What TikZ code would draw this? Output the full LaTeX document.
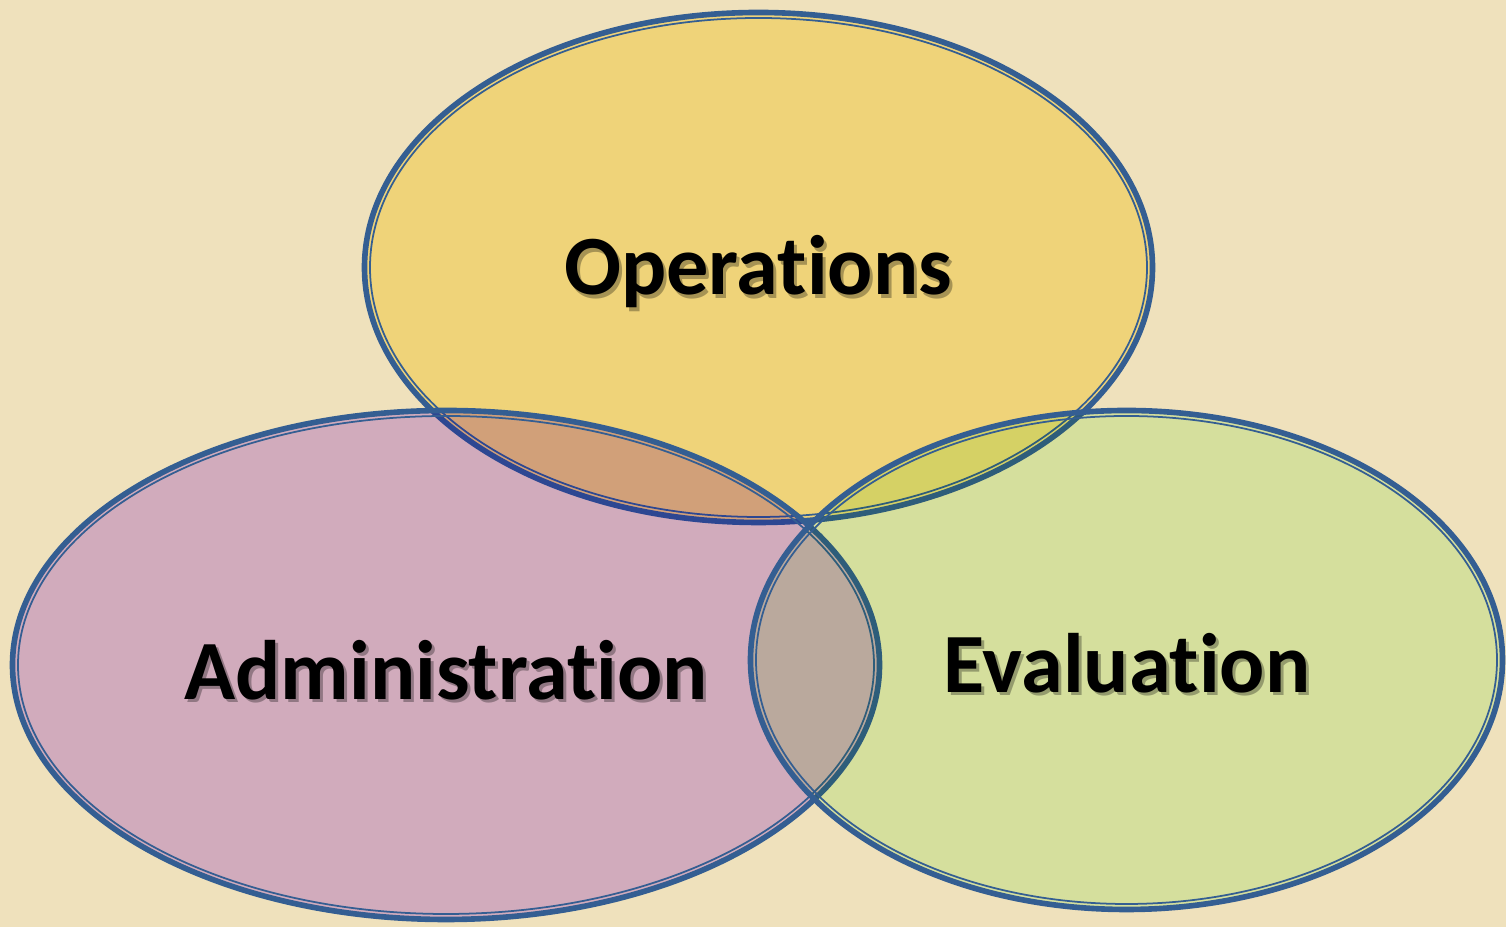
\documentclass[tikz,border=0pt]{standalone}
\usepackage{fontspec}
\setmainfont[Ligatures=NoCommon]{Carlito}
\usepackage{xcolor}
\definecolor{parch}{RGB}{239,225,188}
\definecolor{rimblue}{RGB}{52,94,146}
\definecolor{opsfill}{RGB}{255,240,165}
\definecolor{admfill}{RGB}{223,194,255}
\definecolor{evafill}{RGB}{228,253,214}

\begin{document}
\begin{tikzpicture}[
    rim/.style={draw=rimblue, line width=1.6pt},
    rimin/.style={draw=rimblue, line width=0.5pt},
    lbl/.style={font=\fontsize{24}{28}\selectfont\bfseries, text=black, inner sep=0pt},
    lblshadow/.style={lbl, text=black, text opacity=0.3}]
    \fill[parch] (0,0) rectangle (15.06,9.27);
    \useasboundingbox (0,0) rectangle (15.06,9.27);
    % three sets: top, left, right
    \foreach \cx/\cy/\rx/\ry/\col in {7.585/6.595/3.94/2.55/opsfill,
                                      4.46/2.62/4.335/2.545/admfill,
                                      11.265/2.67/3.76/2.495/evafill}{
      \begin{scope}[blend mode=multiply]
        \fill[\col] (\cx,\cy) ellipse [x radius=\rx, y radius=\ry];
      \end{scope}
      \draw[rim] (\cx,\cy) ellipse [x radius=\rx, y radius=\ry];
      \draw[rimin] (\cx,\cy) ellipse [x radius=\rx-0.055, y radius=\ry-0.055];
    }
    \foreach \nm/\x/\y/\txt in {ops/7.58/6.55/Operations,
                                adm/4.46/2.57/Administration,
                                eva/11.27/2.64/Evaluation}{
      \node[lblshadow] (\nm s) at (\x+0.03,\y-0.035) {\txt};
      \node[lbl] (\nm) at (\x,\y) {\txt};
    }
\end{tikzpicture}
\end{document}
